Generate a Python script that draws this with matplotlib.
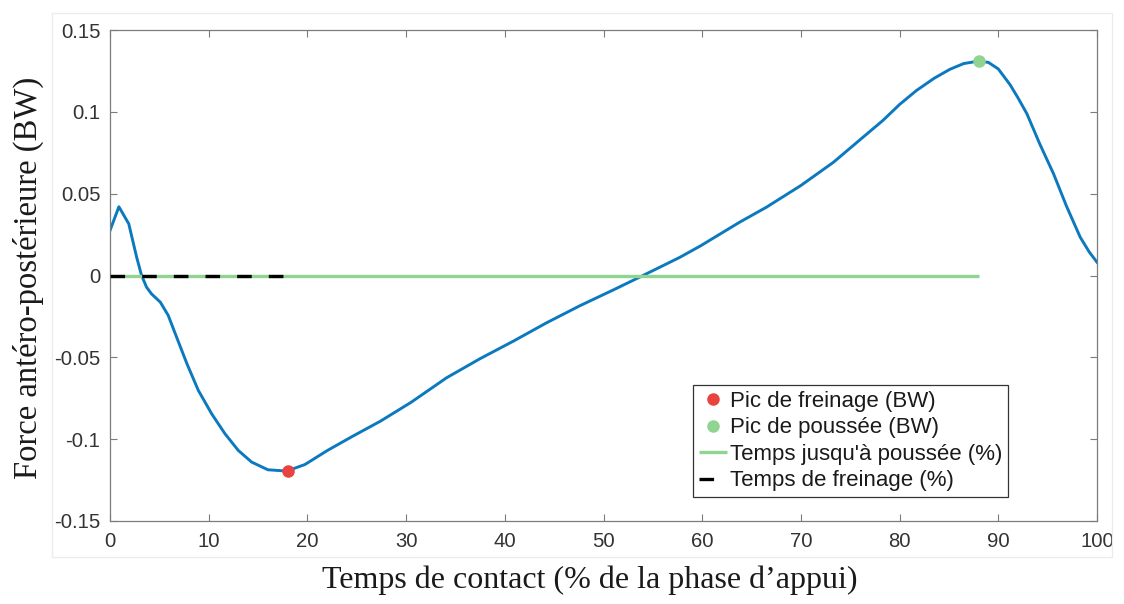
import matplotlib
matplotlib.use("Agg")
import matplotlib.pyplot as plt
from matplotlib.patches import Rectangle

# ---- data ----
time_pct = [0, 0.9, 1.9, 2.7, 3.2, 3.7, 4.2, 5.1, 5.9, 6.75, 7.8, 8.95, 10.3,
            11.65, 13.0, 14.35, 16.0, 17.9, 19.75, 22.0, 24.5, 27.4, 30.5,
            34.1, 37.5, 40.9, 44.2, 47.6, 51.0, 54.0, 57.7, 59.8, 63.8, 66.5,
            70.0, 73.3, 76.0, 78.3, 80.0, 81.7, 83.5, 85.1, 86.5, 88.0, 89.0,
            90.0, 91.2, 92.0, 92.9, 94.2, 95.6, 96.9, 98.3, 99.2, 100.0]
force_bw = [0.0275, 0.042, 0.0316, 0.0112, 0.0, -0.0071, -0.0112, -0.0163,
            -0.0244, -0.0377, -0.054, -0.0702, -0.0845, -0.0967, -0.1069,
            -0.114, -0.1187, -0.1195, -0.1155, -0.107, -0.0985, -0.089,
            -0.0775, -0.0625, -0.0508, -0.040, -0.029, -0.0185, -0.0088, 0.0,
            0.011, 0.018, 0.0326, 0.0417, 0.055, 0.0692, 0.083, 0.0947, 0.1045,
            0.113, 0.1205, 0.126, 0.1295, 0.131, 0.1302, 0.1262, 0.1165,
            0.1085, 0.0988, 0.0804, 0.0621, 0.0425, 0.0234, 0.0145, 0.0081]

brake_peak_t, brake_peak_f = 18.0, -0.1195
push_peak_t, push_peak_f = 88.0, 0.131
push_time_end = 88.0
brake_time_end = 18.0

x_ticks = [0, 10, 20, 30, 40, 50, 60, 70, 80, 90, 100]
y_ticks = [-0.15, -0.1, -0.05, 0, 0.05, 0.1, 0.15]
y_tick_labels = ["-0.15", "-0.1", "-0.05", "0", "0.05", "0.1", "0.15"]

legend_labels = ["Pic de freinage (BW)", "Pic de poussée (BW)",
                 "Temps jusqu'à poussée (%)", "Temps de freinage (%)"]

# ---- styling ----
plt.rcParams["lines.scale_dashes"] = False
BLUE = "#0b79bf"
GREEN = "#8fd490"
RED = "#e8443f"
TICK_COL = "#333333"
SPINE_COL = "#7c7c7c"
SANS = ["Liberation Sans", "DejaVu Sans"]
SERIF = ["Liberation Serif", "DejaVu Serif"]

fig = plt.figure(figsize=(11.24, 6.04), dpi=100)
fig.patch.set_facecolor("white")

# faint outer frame as in the reference
fig.patches.append(Rectangle((52 / 1124, 1 - 557 / 604), (1112 - 52) / 1124,
                             (557 - 13) / 604, transform=fig.transFigure,
                             fill=False, edgecolor="#ececec", lw=1.0))

ax = fig.add_axes([110 / 1124, 1 - 521 / 604, (1097 - 110) / 1124, (521 - 30) / 604])

ax.plot(time_pct, force_bw, color=BLUE, lw=2.1, zorder=2,
        solid_joinstyle="round")
h_push_t, = ax.plot([0, push_time_end], [0, 0], color=GREEN, lw=2.4, zorder=3,
                    solid_capstyle="butt")
h_brake_t, = ax.plot([0, brake_time_end], [0, 0], color="black", lw=2.4,
                     dashes=(10.5, 12.3), zorder=4)
h_brake_pk, = ax.plot([brake_peak_t], [brake_peak_f], "o", color=RED,
                      ms=8, mec=RED, zorder=5, linestyle="none")
h_push_pk, = ax.plot([push_peak_t], [push_peak_f], "o", color=GREEN,
                     ms=8, mec=GREEN, zorder=5, linestyle="none")

ax.set_xlim(0, 100)
ax.set_ylim(-0.15, 0.15)
ax.set_xticks(x_ticks)
ax.set_xticklabels([str(t) for t in x_ticks])
ax.set_yticks(y_ticks)
ax.set_yticklabels(y_tick_labels)

ax.tick_params(direction="in", top=True, right=True, length=5, width=0.8,
               color=SPINE_COL, labelcolor=TICK_COL, labelsize=14.6)
ax.tick_params(axis="y", pad=7)
ax.tick_params(axis="x", pad=8)
for lbl in ax.get_xticklabels() + ax.get_yticklabels():
    lbl.set_family(SANS)
for sp in ax.spines.values():
    sp.set_color(SPINE_COL)
    sp.set_linewidth(0.9)

leg = ax.legend([h_brake_pk, h_push_pk, h_push_t, h_brake_t], legend_labels,
                loc="lower left", bbox_to_anchor=((693 - 110) / 987, (521 - 497) / 491),
                borderaxespad=0, prop={"family": SANS, "size": 16},
                handlelength=1.3, handletextpad=0.1, borderpad=0.25,
                labelspacing=0.25, fancybox=False, framealpha=1,
                edgecolor="#333333")
leg.get_frame().set_linewidth(0.9)
for t in leg.get_texts():
    t.set_color("#1a1a1a")

fig.text(590 / 1124, 1 - 580 / 604, "Temps de contact (% de la phase d\u2019appui)",
         ha="center", va="center", fontsize=23, family=SERIF, color="#1a1a1a")
fig.text(28 / 1124, 1 - 278 / 604, "Force antéro-postérieure (BW)",
         ha="center", va="center", rotation=90, fontsize=23.5, family=SERIF,
         color="#1a1a1a")

fig.savefig("out.png", dpi=100)
